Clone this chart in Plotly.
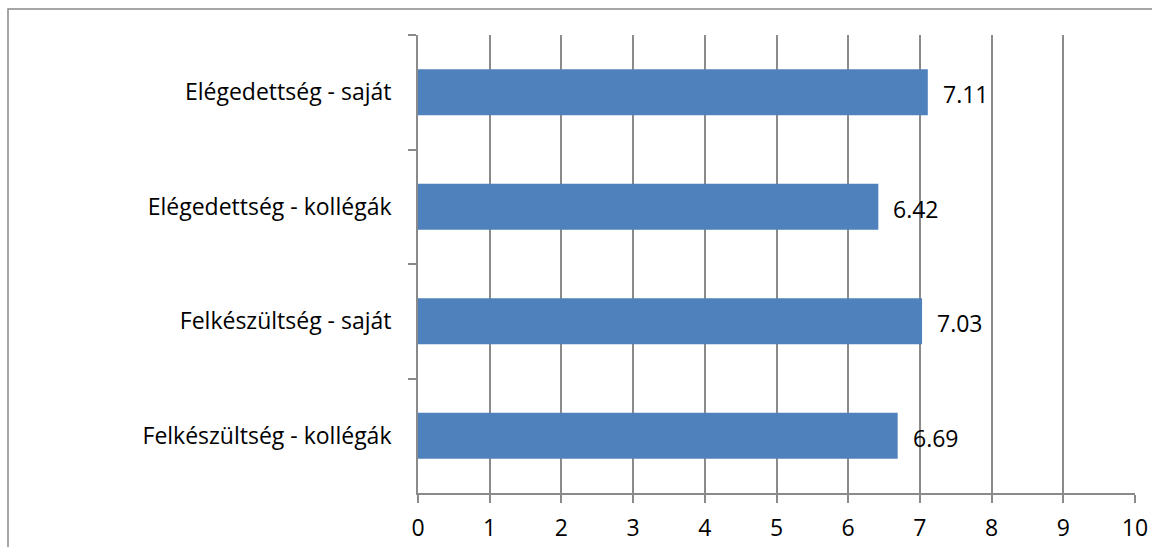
import plotly.graph_objects as go

categories = ["Elégedettség - saját", "Elégedettség - kollégák", "Felkészültség - saját", "Felkészültség - kollégák"]
values = [7.11, 6.42, 7.03, 6.69]
value_labels = ["7.11", "6.42", "7.03", "6.69"]
x_ticks = list(range(0, 11))

W, H = 1152, 547
L, R, T, B = 418, 17, 35, 54
pw, ph = W - L - R, H - T - B
FONT = "Open Sans, Lato, sans-serif"
FS = 23

fig = go.Figure()
fig.add_trace(go.Bar(
    y=categories, x=values, orientation="h",
    marker=dict(color="#4f81bd", line=dict(width=0)),
    width=0.4, hoverinfo="skip",
))

for c, v, t in zip(categories, values, value_labels):
    fig.add_annotation(x=v, y=c, xref="x", yref="y", text=t, showarrow=False,
                       xanchor="left", xshift=13, yshift=-2,
                       font=dict(family=FONT, size=FS, color="#000000"))

grid = "#8a8a8a"
fig.update_layout(
    width=W, height=H,
    margin=dict(l=L, r=R, t=T, b=B, autoexpand=False),
    paper_bgcolor="white", plot_bgcolor="white",
    showlegend=False,
    font=dict(family=FONT, size=FS, color="#000000"),
    xaxis=dict(range=[0, 10], tickvals=x_ticks, ticktext=[str(v) for v in x_ticks],
               showgrid=True, gridcolor=grid, gridwidth=1.8,
               showline=True, linecolor=grid, linewidth=1.8,
               ticks="outside", ticklen=8, tickcolor=grid, tickwidth=1.8,
               ticklabelstandoff=5, zeroline=False, fixedrange=True),
    yaxis=dict(categoryorder="array", categoryarray=categories, autorange="reversed",
               showgrid=False, showline=True, linecolor=grid, linewidth=1.8,
               ticks="outside", ticklen=8, tickcolor=grid, tickwidth=1.8,
               tickson="boundaries", ticklabelstandoff=20, fixedrange=True),
    shapes=[dict(type="rect", xref="paper", yref="paper",
                 x0=(8 - L) / pw, x1=(W + 5 - L) / pw,
                 y0=(H - B - (H + 5)) / ph, y1=1 + (T - 9) / ph,
                 line=dict(color="#898989", width=1.5), fillcolor="rgba(0,0,0,0)", layer="below")],
)

fig.write_html("out.html", config={"displayModeBar": False},
               post_script="document.body.style.margin='0';document.body.style.overflow='hidden';")
